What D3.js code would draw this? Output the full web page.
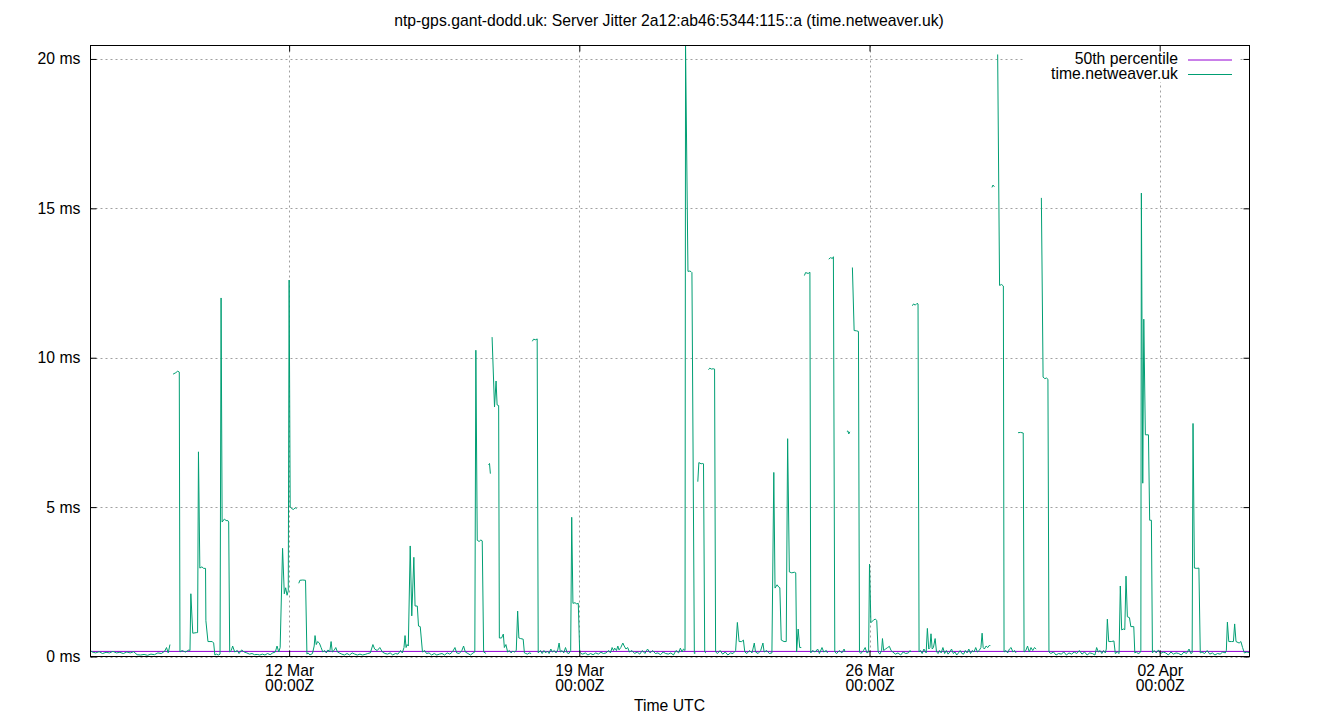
<!DOCTYPE html>
<html>
<head>
  <meta charset="utf-8">
  <title>Server Jitter</title>
  <script src="https://d3js.org/d3.v7.min.js"></script>
  <style>
    body { margin: 0; background: #fff; }
    svg { display: block; font-family: "Liberation Sans", Arial, sans-serif; }
  </style>
</head>
<body>
  <div id="chart"></div>
  <script>
    // samples: [hours after 07 Mar 00:00Z, jitter in ms]; null = no data (line break)
    const week1 = [
      [5,0.20],[6,0.15],[8,0.12],[10,0.16],[12,0.10],[14,0.14],[16,0.12],[18,0.17],[20,0.12],[22,0.14],
      [24,0.10],[26,0.15],[28,0.12],[30,0.16],[32,0.06],[34,0.05],[36,0.07],[38,0.04],[40,0.08],[42,0.06],
      [44,0.12],[46,0.10],[48,0.18],[49,0.30],[50,0.12],[51,0.40],[52,null],
      [52.8,9.45],[54.4,9.50],[55.5,9.55],[56.4,9.52],[56.8,0.15],[58,0.20],[60,0.15],[62,0.22],[62.6,0.20],
      [63.1,2.10],[64.2,0.78],[66.5,0.80],[67.0,0.80],[67.5,6.85],[68.3,2.96],[69.5,3.00],[70.5,2.95],[71.6,2.95],
      [71.8,1.20],[73.0,0.50],[75.5,0.50],[76.3,0.45],[77,0.05],[78,0.08],[79,0.05],[80,0.08],[80.6,12.0],
      [81.2,4.50],[82.5,4.60],[83.5,4.55],[84.5,4.55],[85.0,4.50],[85.6,0.15],[86.5,0.20],[87.3,0.35],[88.5,0.15],
      [90,0.20],[91,0.10],[92.5,0.22],[94,0.15],[95.5,0.12],[97,0.08],[98.5,0.10],[100,0.06],[101.5,0.07],
      [103,0.05],[104.5,0.08],[106,0.05],[107.5,0.10],[109,0.06],[110.5,0.12],[112,0.15],[113,0.35],[114,0.15],
      [114.8,0.30],[116.2,3.62],[117.2,2.10],[118,2.30],[118.8,2.05],[119.5,2.20],[120.0,12.6]
    ];
    const week2 = [
      [120.6,5.00],[121.5,4.95],[122.5,4.92],[123.5,4.98],[124.3,4.95],[125,null],
      [125.6,2.45],[126.2,2.55],[127.9,2.56],[129.5,2.55],[130.3,0.08],[131,0.12],[132,0.05],[133.5,0.10],
      [134.5,0.35],[135,0.70],[135.7,0.40],[136.5,0.50],[137.5,0.45],[138.5,0.30],[139.5,0.15],[140.5,0.20],
      [141.5,0.12],[142.5,0.22],[143.5,0.15],[144.3,0.50],[145,0.15],[146,0.20],[147,0.30],[148,0.15],[149,0.12],
      [150.5,0.08],[152,0.05],[153.5,0.10],[155,0.05],[156.5,0.12],[158,0.08],[159.5,0.05],[161,0.08],[162.5,0.05],
      [164,0.07],[165.5,0.10],[167,0.12],[168.5,0.40],[169.5,0.25],[171,0.20],[172.5,0.30],[174,0.15],[175.5,0.10],
      [177,0.08],[178.5,0.12],[180,0.05],[181.5,0.10],[183,0.08],[184.5,0.20],[185.5,0.12],[186.5,0.30],[187.1,0.70],
      [187.7,0.30],[188.3,0.40],[189,0.35],[190.1,3.70],[191,1.36],[192.2,3.32],[192.9,1.69],[194.2,1.69],[194.9,1.02],
      [195.9,1.00],[197.2,0.15],[198.5,0.20],[199.5,0.10],[201,0.12],[202.5,0.05],[204,0.10],[205.5,0.05],[207,0.08],
      [208.5,0.10],[210,0.05],[211.5,0.12],[213,0.08],[214.5,0.15],[216,0.30],[217,0.12],[218.5,0.10],[220,0.20],
      [221,0.35],[222,0.15],[223.5,0.10],[225,0.05],[226.5,0.12],[227.5,0.15],[228.1,10.25],[228.9,3.89],[230,3.85],
      [231,3.90],[231.8,3.87],[232.6,0.15],[233.5,0.12],[234,0.10],[234.7,null],
      [235.4,6.42],[236,6.46],[236.5,6.12],[237,null],
      [237.5,10.69],[238.9,8.35],[239.8,9.22],[240.4,8.42],[241.3,8.40],[241.7,0.62],[243,0.62],[244,0.75],[244.6,0.30],
      [245.5,0.40],[246.5,0.15],[247.5,0.20],[248.5,0.12],[249.5,0.18],[250.5,0.15],[251.5,0.20],[252.3,1.52],[253,0.62],
      [254,0.60],[255.5,0.58],[256.2,0.12],[257,0.10],[258,0.08],[259,0.12],[260.1,0.10],[260.4,null],
      [260.8,10.55],[261.5,10.62],[262.8,10.60],[263.6,10.63],[264.2,0.12],[265.5,0.20],[266.5,0.10],[267.5,0.20],
      [268.5,0.12],[269.5,0.18],[270.5,0.10],[271.5,0.25],[272.5,0.15],[273.5,0.20],[274.5,0.12],[275.5,0.22],
      [276.3,0.45],[277,0.15],[278,0.20],[279,0.12],[280,0.30],[281,0.12],[282,0.10],[283,0.20],[283.6,4.66],
      [284.3,1.78],[285.5,1.80],[286.5,1.76],[287.4,1.78],[288.2,0.15]
    ];
    const week3 = [
      [289,0.10],[290,0.08],[291.5,0.12],[293,0.05],[294.5,0.10],[296,0.06],[297.5,0.12],[299,0.08],[300.5,0.14],
      [302,0.10],[303.5,0.12],[305,0.20],[306,0.12],[307,0.30],[307.8,0.20],[308.5,0.28],[309.5,0.20],[310.3,0.35],
      [311,0.22],[312,0.30],[313.2,0.45],[314,0.35],[315,0.25],[316,0.30],[317,0.15],[318.5,0.20],[320,0.10],
      [321.5,0.15],[323,0.08],[324.5,0.20],[326,0.10],[327.5,0.25],[329,0.12],[330.5,0.20],[332,0.10],[333.5,0.12],
      [335,0.06],[336.5,0.15],[338,0.10],[339.5,0.08],[341,0.12],[342.5,0.05],[344,0.20],[345.5,0.12],[346.5,0.28],
      [347.5,0.15],[348.3,0.25],[349.2,0.20],[349.5,20.45],[350.9,12.89],[352,12.90],[352.7,12.88],[353.2,12.85],
      [354.6,0.10],[355.3,0.12],[356,null],
      [356.6,5.85],[357.2,6.49],[358.5,6.45],[359.5,6.46],[359.9,6.45],[360.6,0.15],[361.3,0.12],[362,null],
      [362.8,9.60],[363.5,9.65],[364.5,9.62],[365.5,9.63],[366.3,9.62],[366.9,0.15],[368,0.10],[369.5,0.20],
      [371,0.08],[372.5,0.15],[374,0.05],[375.5,0.12],[377,0.10],[378.5,0.20],[379.5,1.14],[380.5,0.50],[382,0.50],
      [383,0.55],[383.8,0.15],[385,0.10],[386.5,0.20],[388,0.12],[389.3,0.45],[390,0.15],[391.5,0.10],[393,0.20],
      [394.3,0.45],[395,0.15],[396.5,0.20],[398,0.10],[399.5,0.12],[400.6,6.16],[401.3,2.29],[402.5,2.40],
      [403.5,2.32],[404.1,2.30],[404.9,0.55],[406.5,0.50],[407.8,0.50],[408.6,7.29],[409.6,2.83],[411,2.80],
      [412.5,2.82],[413.3,2.80],[413.8,0.15],[414.7,0.92],[415.6,0.30],[416.5,0.30],[417.5,null],
      [418.3,12.75],[419,12.85],[420.5,12.82],[421.5,12.86],[422,0.12],[423,0.20],[424.5,0.15],[426,0.25],
      [427,0.10],[428.5,0.30],[429.5,0.15],[431,0.20],[431.7,0.12],[432,null],
      [432.4,13.30],[433.5,13.35],[434.5,13.32],[435.1,13.38],[435.9,0.15],[437,0.10],[438.5,0.20],[440,0.12],
      [441.3,0.25],[441.9,0.15],[442.4,null],
      [442.9,7.53],[443.5,7.55],[444,7.45],[444.6,7.52],[445.3,null],
      [446.1,13.02],[447.1,10.91],[448.5,10.90],[449.6,10.88],[450.2,0.15],[451,0.10],[452.5,0.20],[453.5,0.30],
      [454.5,0.12],[455.5,0.15]
    ];
    const week4 = [
      [456.0,3.09],[456.8,1.13],[458.5,1.23],[459.5,1.25],[460.2,1.20],[461,0.15],[462,0.08],[463,0.20],[463.5,0.60],
      [464.2,0.20],[465.3,0.25],[466.5,0.30],[467.5,0.34],[468.5,0.20],[469.5,0.15],[471,0.08],[472.5,0.12],[474,0.05],
      [475.5,0.15],[477,0.10],[478.5,0.12],[479.5,0.20],[480,0.15],[480.4,null],
      [480.8,11.74],[481.5,11.80],[482.5,11.76],[483.5,11.82],[484.1,11.80],[484.7,0.15],[485.5,0.20],[486.5,0.10],
      [487.5,0.25],[488.8,0.12],[489.5,0.94],[490.3,0.25],[491,0.30],[491.6,0.76],[492.3,0.25],[493,0.30],[494,0.60],
      [494.8,0.15],[495.8,0.10],[496.5,0.20],[497.5,0.12],[498.5,0.30],[499.5,0.10],[500.5,0.20],[501.5,0.08],
      [502.5,0.15],[503.5,0.25],[504.5,0.10],[505.5,0.15],[506.5,0.05],[507.5,0.12],[508.5,0.20],[509.5,0.10],
      [510.5,0.08],[511.5,0.20],[512.5,0.12],[513.5,0.25],[514.5,0.10],[515.5,0.20],[516.5,0.15],[517.5,0.30],
      [518.5,0.15],[519.5,0.20],[520.5,0.30],[521.2,0.78],[521.8,0.30],[522.5,0.25],[523.5,0.35],[524.5,0.30],
      [525.5,0.38],[526,0.35],[526.4,null],
      [526.9,15.70],[527.5,15.78],[528.3,15.72],[529,null],
      [530.2,20.15],[531.3,12.42],[532.5,12.45],[533.5,12.40],[533.9,0.15],[535,0.20],[536,0.12],[537,0.25],
      [538,0.30],[539,0.15],[540,0.20],[540.8,0.12],[541.4,null],
      [542,7.49],[543.5,7.50],[545,7.48],[545.5,0.15],[546.5,0.20],[547.5,0.35],[548.5,0.15],[549.5,0.30],
      [550.5,0.20],[551.5,0.30],[552.5,0.25],[553,null],
      [555.5,15.35],[556.5,9.35],[557.5,9.30],[558.5,9.32],[559.3,9.28],[559.9,0.15],[561,0.10],[562.5,0.15],
      [564,0.05],[565.5,0.10],[567,0.08],[568.5,0.15],[570,0.05],[571.5,0.12],[573,0.08],[574.5,0.15],[576,0.10],
      [577.5,0.20],[579,0.08],[580.5,0.15],[582,0.05],[583.5,0.12],[585,0.10],[586.5,0.05],[587.5,0.30],[588.5,0.15],
      [589.5,0.20],[590.5,0.10],[591.5,0.20],[592.5,0.12],[593.1,0.25],[593.7,1.25],[594.5,0.50],[596,0.50],
      [597.5,0.52],[598.3,0.10],[599.5,0.15],[600.5,0.10],[601.2,2.36],[602,0.89],[603,0.92],[603.8,0.90],
      [604.5,2.69],[605.3,1.33],[606.5,1.30],[607.3,1.00],[609,1.00],[609.6,0.12],[610.5,0.15],[611.5,0.10],
      [612.5,0.12],[613.1,0.20],[613.4,15.51],[614.2,5.80],[614.8,11.29],[615.7,7.42],[617.5,7.42],[618.2,4.56],
      [619.2,4.56],[619.8,0.12],[620.8,0.20],[622,0.12],[623.3,0.22],[624.5,0.10],[626,0.15],[627.5,0.12],
      [629,0.05],[630.5,0.15],[632,0.08],[633.5,0.12],[635,0.10],[636.5,0.05],[638,0.15],[639.5,0.10],[641,0.25],
      [642,0.10],[642.8,0.12],[643.3,7.80],[644.1,2.96],[645.5,2.95],[646.7,2.96],[647.5,0.12],[648.5,0.15],
      [650,0.10],[651.5,0.20],[653,0.08],[654.5,0.12],[656,0.05],[657.5,0.10],[659,0.08],[660.5,0.15],[662,0.12],
      [662.6,0.20],[663.2,1.15],[664,0.50],[665.5,0.50],[666.7,0.50],[667.4,1.09],[668.2,0.50],[670,0.45],
      [671,0.50],[672,0.30],[673,0.12],[674.5,0.15],[676,0.12]
    ];

    const medianMs = 0.17;                         // 50th percentile
    const hourRange = [5, 676];                    // 07 Mar 05:00Z .. 04 Apr 04:00Z
    const xTickDays = ["2025-03-12", "2025-03-19", "2025-03-26", "2025-04-02"];
    const yTicks = [0, 5, 10, 15, 20];
    const yMax = 20.45;
    const seriesNames = ["50th percentile", "time.netweaver.uk"];

    function chart() {
      var W = 1340, H = 720;
      var left = 90.5, right = 1249.5, top = 45.5, bottom = 656.5;
      var fs = 15.75;
      var base = Date.UTC(2025, 2, 7);
      var toDate = h => new Date(base + h * 3600e3);

      var x = d3.scaleUtc().domain(hourRange.map(toDate)).range([left, right]);
      var y = d3.scaleLinear().domain([0, yMax]).range([bottom, top]);

      var svg = d3.select("#chart").append("svg").attr("width", W).attr("height", H);

      svg.append("defs").append("clipPath").attr("id", "plot")
        .append("rect").attr("x", left).attr("y", top).attr("width", right - left).attr("height", bottom - top);

      var tickDates = xTickDays.map(s => new Date(s + "T00:00:00Z"));

      // dotted grid
      var grid = svg.append("g").attr("stroke", "#a0a0a0").attr("stroke-width", 1).attr("stroke-dasharray", "2,3");
      grid.selectAll(".gx").data(tickDates).join("line")
        .attr("x1", d => Math.round(x(d)) + 0.5).attr("x2", d => Math.round(x(d)) + 0.5)
        .attr("y1", top).attr("y2", bottom);
      grid.selectAll(".gy").data(yTicks).join("line")
        .attr("x1", left).attr("x2", right)
        .attr("y1", d => Math.round(y(d)) + 0.5).attr("y2", d => Math.round(y(d)) + 0.5);

      // series
      var plot = svg.append("g").attr("clip-path", "url(#plot)");
      plot.append("line")
        .attr("x1", x(toDate(hourRange[0]))).attr("x2", x(toDate(hourRange[1])))
        .attr("y1", y(medianMs)).attr("y2", y(medianMs))
        .attr("stroke", "#9400d3").attr("stroke-width", 1);

      var jitter = week1.concat(week2, week3, week4);
      var line = d3.line()
        .defined(d => d[1] !== null)
        .x(d => x(toDate(d[0])))
        .y(d => y(d[1]));
      plot.append("path").datum(jitter)
        .attr("d", line).attr("fill", "none")
        .attr("stroke", "#009e73").attr("stroke-width", 1);

      // legend (opaque box over the grid)
      var lg = svg.append("g");
      lg.append("rect").attr("x", 1025).attr("y", 46).attr("width", 215).attr("height", 36).attr("fill", "#fff");
      var lgColors = ["#9400d3", "#009e73"];
      seriesNames.forEach(function (name, i) {
        var yy = 64 + i * 14.5;
        lg.append("text").attr("x", 1178).attr("y", yy).attr("text-anchor", "end")
          .attr("font-size", fs).attr("fill", "#000").text(name);
        lg.append("line").attr("x1", 1188).attr("x2", 1232)
          .attr("y1", yy - 4).attr("y2", yy - 4)
          .attr("stroke", lgColors[i]).attr("stroke-width", 1);
      });

      // axes: ticks point inwards and are mirrored
      var fmtDay = d3.utcFormat("%d %b"), fmtTime = d3.utcFormat("%H:%MZ");
      var xAxis = svg.append("g").attr("transform", `translate(0,${bottom})`)
        .call(d3.axisBottom(x).tickValues(tickDates).tickSizeInner(-6).tickSizeOuter(0).tickPadding(8));
      xAxis.selectAll(".tick text").each(function (d) {
        var t = d3.select(this).text(null);
        t.append("tspan").attr("x", 0).text(fmtDay(d));
        t.append("tspan").attr("x", 0).attr("dy", 15).text(fmtTime(d));
      });
      svg.append("g").attr("transform", `translate(0,${top})`)
        .call(d3.axisTop(x).tickValues(tickDates).tickSizeInner(-6).tickSizeOuter(0).tickFormat(""));
      svg.append("g").attr("transform", `translate(${left},0)`)
        .call(d3.axisLeft(y).tickValues(yTicks).tickSizeInner(-6).tickSizeOuter(0).tickPadding(10)
          .tickFormat(d => d + " ms"));
      svg.append("g").attr("transform", `translate(${right},0)`)
        .call(d3.axisRight(y).tickValues(yTicks).tickSizeInner(-6).tickSizeOuter(0).tickFormat(""));

      svg.selectAll(".domain").remove();
      svg.selectAll(".tick line").attr("stroke", "#000");
      svg.selectAll(".tick text").attr("font-size", fs).attr("fill", "#000");
      svg.selectAll("g[font-family]").attr("font-family", null).attr("font-size", null);

      // border
      svg.append("rect").attr("x", left).attr("y", top).attr("width", right - left).attr("height", bottom - top)
        .attr("fill", "none").attr("stroke", "#000").attr("stroke-width", 1);

      svg.append("text").attr("x", 669).attr("y", 26).attr("text-anchor", "middle").attr("font-size", fs)
        .text("ntp-gps.gant-dodd.uk: Server Jitter 2a12:ab46:5344:115::a (time.netweaver.uk)");
      svg.append("text").attr("x", 669.5).attr("y", 711).attr("text-anchor", "middle").attr("font-size", fs)
        .text("Time UTC");
    }

    chart();
  </script>
</body>
</html>
